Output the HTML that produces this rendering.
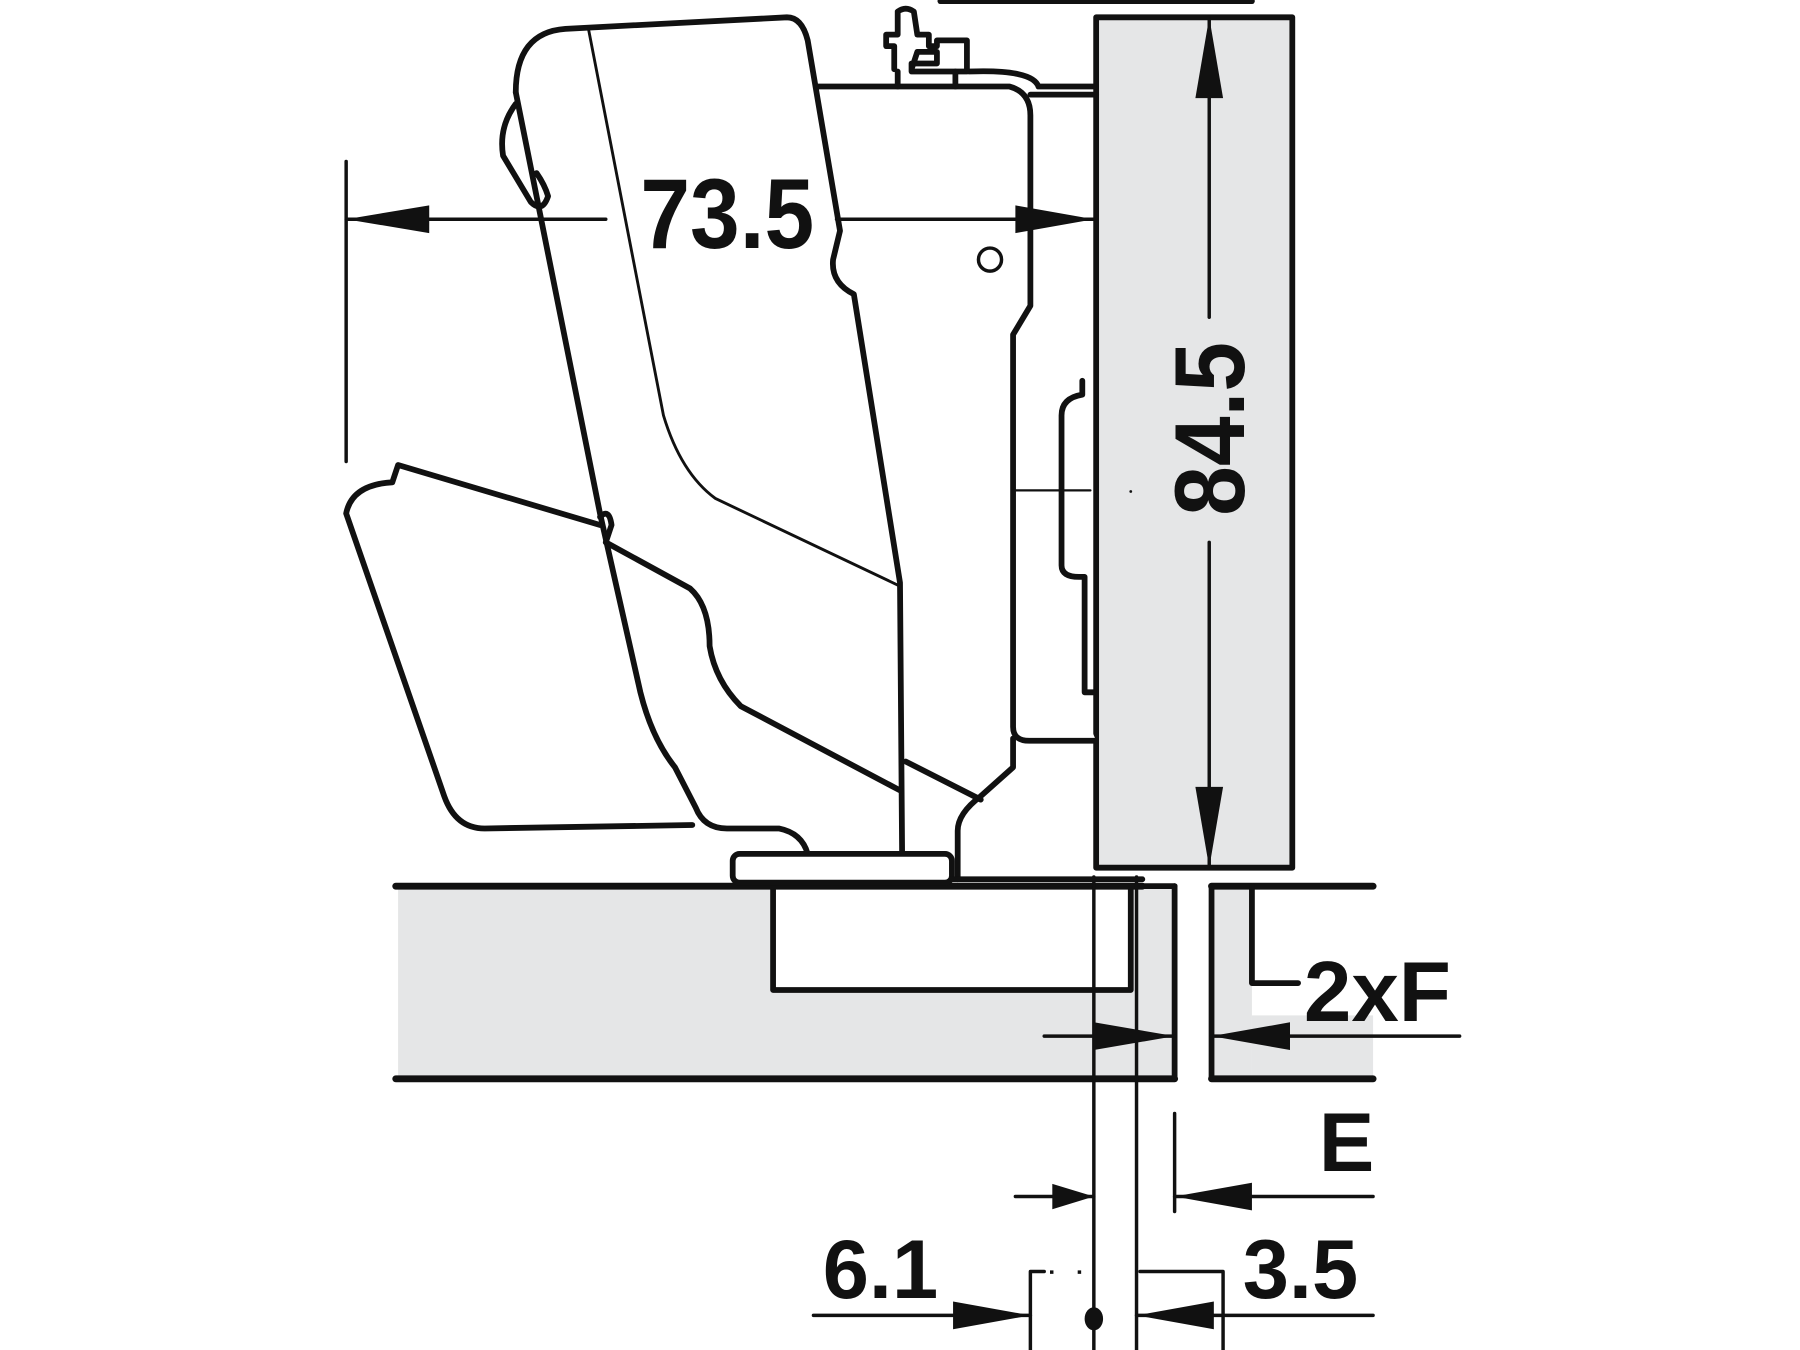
<!DOCTYPE html>
<html><head><meta charset="utf-8"><style>
html,body{margin:0;padding:0;background:#fff;}
svg{display:block}
text{font-family:"Liberation Sans",Arial,sans-serif;font-weight:bold;fill:#111}
</style></head><body>
<svg width="1800" height="1350" viewBox="0 0 1560 1170" xmlns="http://www.w3.org/2000/svg">
<g fill="none" stroke="#111" stroke-width="5" stroke-linejoin="round" stroke-linecap="round">
<rect x="345" y="768" width="673" height="167" fill="#e5e6e7" stroke="none"/>
<rect x="1050" y="768" width="35" height="167" fill="#e5e6e7" stroke="none"/>
<rect x="1085" y="880" width="105" height="55" fill="#e5e6e7" stroke="none"/>
<rect x="670" y="768" width="310" height="90" fill="#fff"/>
<line x1="343" y1="768" x2="990" y2="768" stroke-width="6"/>
<line x1="343" y1="935" x2="1018" y2="935" stroke-width="6"/>
<line x1="1018" y1="768" x2="1018" y2="935"/>
<line x1="990" y1="768" x2="1018" y2="768"/>
<line x1="1050" y1="768" x2="1050" y2="935"/>
<line x1="1050" y1="768" x2="1190" y2="768" stroke-width="6"/>
<line x1="1050" y1="935" x2="1190" y2="935" stroke-width="6"/>
<polyline points="1085,768 1085,852 1125,852"/>
<rect x="950" y="15" width="170" height="737" fill="#e5e6e7"/>
<line x1="815" y1="1" x2="1085" y2="1"/>
<line x1="948" y1="760" x2="948" y2="1170" stroke-width="3"/>
<line x1="985" y1="760" x2="985" y2="1170" stroke-width="3"/>
<line x1="1018" y1="965" x2="1018" y2="1050" stroke-width="3"/>
<path d="M705,75 L875,75 Q893,80 893,100 L893,265 L878,290 L878,630 Q878,642 892,642 L950,642" fill="#fff"/>
<path d="M878,640 L878,665 L850,690 Q830,705 830,720 L830,762"/>
<path d="M840,62 Q895,60 900,75 L950,75"/>
<line x1="893" y1="82" x2="950" y2="82"/>
<path d="M775,60 L775,40 L768,40 L768,30 L778,30 L778,10 Q785,5 792,10 L795,30 L805,30 L805,40 L812,40 L812,35 L838,35 L838,62 L790,62 L790,55 L812,55 L812,45 L795,45 L790,60"/>
<line x1="778" y1="62" x2="778" y2="75"/>
<line x1="828" y1="62" x2="828" y2="75"/>
<path d="M938,330 L938,342 Q920,345 920,360 L920,490 Q920,500 935,500 L940,500 L940,600 L948,600"/>
<line x1="878" y1="425" x2="945" y2="425" stroke-width="2"/>
<circle cx="980" cy="426" r="1.2" fill="#111" stroke="none"/>
<circle cx="858" cy="225" r="10" stroke-width="3"/>
<path d="M447,80 Q447,28 490,25 L682,15 Q695,15 700,35 L728,200 L722,225 Q720,245 740,255 L780,505 L782,762" fill="#fff"/>
<path d="M447,80 L520,445 L555,600 Q565,640 585,665 L603,700 Q610,718 630,718 L675,718 Q695,722 700,740"/>
<path d="M447,90 Q432,110 436,135 L445,150 L460,175 Q470,185 475,170 Q472,160 465,150"/>
<path d="M510,25 L575,360 Q590,410 620,432 L780,508" stroke-width="2.5"/>
<path d="M520,455 L345,403 L340,418 Q305,420 300,445 L385,690 Q395,718 420,718 L600,715"/>
<path d="M520,448 Q528,440 530,455 L525,470 L598,510 Q615,525 615,560 Q620,590 642,612 L780,685"/>
<path d="M785,660 L850,693"/>
<rect x="635" y="740" width="190" height="25" rx="6" fill="#fff"/>
<line x1="825" y1="762" x2="990" y2="762"/>
<line x1="300" y1="140" x2="300" y2="400" stroke-width="3"/>
<line x1="300" y1="190" x2="525" y2="190" stroke-width="3"/>
<line x1="725" y1="190" x2="948" y2="190" stroke-width="3"/>
<line x1="1048" y1="15" x2="1048" y2="275" stroke-width="3"/>
<line x1="1048" y1="470" x2="1048" y2="752" stroke-width="3"/>
<line x1="905" y1="898" x2="1018" y2="898" stroke-width="3"/>
<line x1="1050" y1="898" x2="1265" y2="898" stroke-width="3"/>
<line x1="880" y1="1037" x2="948" y2="1037" stroke-width="3"/>
<line x1="1018" y1="1037" x2="1190" y2="1037" stroke-width="3"/>
<line x1="705" y1="1140" x2="893" y2="1140" stroke-width="3"/>
<line x1="985" y1="1140" x2="1190" y2="1140" stroke-width="3"/>
<polyline points="893,1170 893,1102 905,1102" stroke-width="3"/>
<polyline points="988,1102 1060,1102 1060,1170" stroke-width="3"/>
</g>
<g fill="#111">
<polygon points="300,190 372,178 372,202"/>
<polygon points="948,190 880,178 880,202"/>
<polygon points="1048,15 1036,85 1060,85"/>
<polygon points="1048,752 1036,682 1060,682"/>
<polygon points="1018,898 948,886 948,910"/>
<polygon points="1050,898 1118,886 1118,910"/>
<polygon points="948,1037 912,1026 912,1048"/>
<polygon points="1018,1037 1085,1025 1085,1049"/>
<polygon points="893,1140 826,1128 826,1152"/>
<polygon points="985,1140 1052,1128 1052,1152"/>
<ellipse cx="948" cy="1143" rx="8" ry="10"/>
<rect x="910" y="1101" width="3" height="3"/>
<rect x="934" y="1101" width="3" height="3"/>
</g>
<text transform="translate(555,215) scale(0.9,1)" font-size="86">73.5</text>
<text transform="translate(1078,447) rotate(-90) scale(0.9,1)" font-size="86">84.5</text>
<text x="1130" y="885" font-size="74">2xF</text>
<text x="1143" y="1015" font-size="72">E</text>
<text x="713" y="1125" font-size="72">6.1</text>
<text x="1077" y="1125" font-size="72">3.5</text>
</svg>
</body></html>
